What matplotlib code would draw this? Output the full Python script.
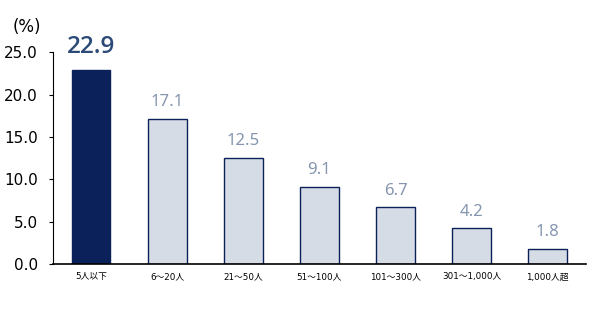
import numpy as np
import matplotlib.pyplot as plt

plt.rcParams['font.family'] = ['DejaVu Sans', 'Noto Sans CJK JP']

categories = ['5人以下', '6～20人', '21～50人', '51～100人', '101～300人', '301～1,000人', '1,000人超']
values = [22.9, 17.1, 12.5, 9.1, 6.7, 4.2, 1.8]
highlight = 0

navy = '#0b2159'
light = '#d6dce6'

fig = plt.figure(figsize=(6.16, 3.26), dpi=100)
ax = fig.add_axes([0.086, 0.19, 0.865, 0.65])

x = np.arange(len(categories))
colors = [navy if i == highlight else light for i in x]
ax.bar(x, values, width=0.51, color=colors, edgecolor=navy, linewidth=1.0, zorder=2)

for i, v in enumerate(values):
    if i == highlight:
        ax.text(i, v + 2.0, f'{v:.1f}', ha='center', va='baseline', fontsize=17.5,
                fontweight='semibold', color='#2b4a77', family='Open Sans')
    else:
        ax.text(i, v + 1.5, f'{v:.1f}', ha='center', va='baseline', fontsize=12,
                color='#8595af', family='Noto Sans')

ax.set_xlim(-0.5, 6.5)
ax.set_ylim(0, 25)
ax.set_yticks(np.arange(0, 25.1, 5))
ax.set_yticklabels([f'{t:.1f}' for t in np.arange(0, 25.1, 5)], fontsize=11)
ax.set_xticks(x)
ax.set_xticklabels(categories, fontsize=6.3)
ax.tick_params(axis='x', length=0, pad=6)
ax.tick_params(axis='y', length=3, pad=8)

for s in ['top', 'right']:
    ax.spines[s].set_visible(False)
ax.spines['left'].set_color('black')
ax.spines['bottom'].set_color('black')
ax.spines['bottom'].set_linewidth(1.2)

fig.text(0.021, 0.917, '(%)', fontsize=12, ha='left', va='center')

fig.savefig('out.png', dpi=100)
